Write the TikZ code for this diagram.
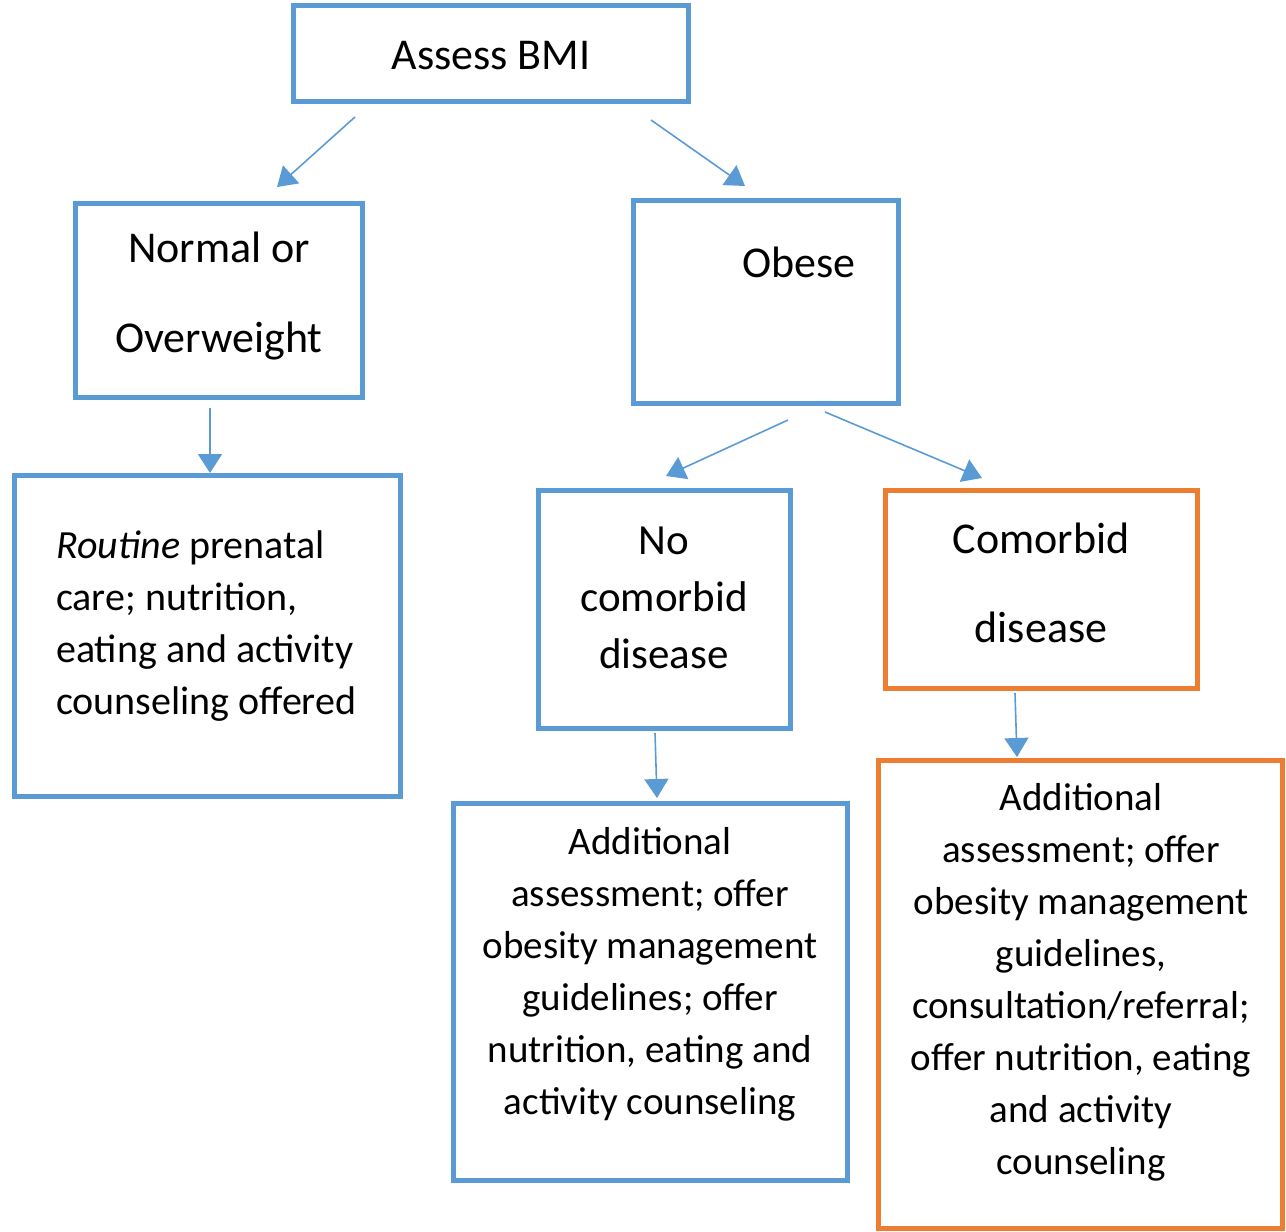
\documentclass[tikz,border=0pt]{standalone}
\usepackage{fontspec}
\setmainfont{Carlito}
\usetikzlibrary{arrows.meta}
\definecolor{obl}{HTML}{5B9BD5}
\definecolor{oor}{HTML}{ED7D31}
\begin{document}
\begin{tikzpicture}[x=1pt,y=-1pt,
  bluebox/.style={draw=obl,line width=5pt,rectangle,inner sep=0pt},
  orangebox/.style={draw=oor,line width=5pt,rectangle,inner sep=0pt},
  txt/.style={font=\fontsize{39}{52}\selectfont,inner sep=0pt,align=center},
  conn/.style={draw=obl,line width=1.6pt,-{Triangle[length=19pt,width=24pt]},color=obl}]
\useasboundingbox (0,0) rectangle (1286,1232);
% boxes
\node[bluebox,minimum width=395pt,minimum height=96pt] (bmi) at (490.5,53) {};
\node[bluebox,minimum width=287pt,minimum height=194pt] (norm) at (218.5,300) {};
\node[bluebox,minimum width=265pt,minimum height=203pt] (obese) at (765.5,301.5) {};
\node[bluebox,minimum width=386pt,minimum height=321pt] (rout) at (207,635.5) {};
\node[bluebox,minimum width=252pt,minimum height=238pt] (nocom) at (664,609) {};
\node[orangebox,minimum width=312pt,minimum height=198pt] (com) at (1041,589) {};
\node[bluebox,minimum width=394pt,minimum height=377pt] (addb) at (650,991.5) {};
\node[orangebox,minimum width=404pt,minimum height=468pt] (addo) at (1080,994) {};
% texts
\node[txt,font=\fontsize{44}{52}\selectfont] (tbmi) at (491,56) {Assess BMI};
\node[txt,font=\fontsize{44}{90}\selectfont] (tnorm) at (219,296) {Normal or\\Overweight};
\node[txt,font=\fontsize{44}{52}\selectfont] (tobese) at (799,262) {Obese};
\node[txt,align=left,anchor=west,font=\fontsize{40}{52}\selectfont] (trout) at (56,626) {\textit{Routine} prenatal\\care; nutrition,\\eating and activity\\counseling offered};
\node[txt,font=\fontsize{43}{57}\selectfont] (tnocom) at (664,598) {No\\comorbid\\disease};
\node[txt,font=\fontsize{44}{89}\selectfont] (tcom) at (1041,583) {Comorbid\\disease};
\node[txt] (taddb) at (650,974) {Additional\\assessment; offer\\obesity management\\guidelines; offer\\nutrition, eating and\\activity counseling};
\node[txt] (taddo) at (1081,982) {Additional\\assessment; offer\\obesity management\\guidelines,\\consultation/referral;\\offer nutrition, eating\\and activity\\counseling};
% connector endpoints
\coordinate (a1s) at (355,117); \coordinate (a1e) at (277,187);
\coordinate (a2s) at (651,120); \coordinate (a2e) at (745,186);
\coordinate (a3s) at (210,408); \coordinate (a3e) at (210,473);
\coordinate (a4s) at (788,420); \coordinate (a4e) at (666,476);
\coordinate (a5s) at (825,412); \coordinate (a5e) at (982,478);
\coordinate (a6s) at (655,733); \coordinate (a6e) at (657,798);
\coordinate (a7s) at (1015,693); \coordinate (a7e) at (1017,757);
\draw[conn] (a1s) -- (a1e);
\draw[conn] (a2s) -- (a2e);
\draw[conn] (a3s) -- (a3e);
\draw[conn] (a4s) -- (a4e);
\draw[conn] (a5s) -- (a5e);
\draw[conn] (a6s) -- (a6e);
\draw[conn] (a7s) -- (a7e);
\end{tikzpicture}
\end{document}
